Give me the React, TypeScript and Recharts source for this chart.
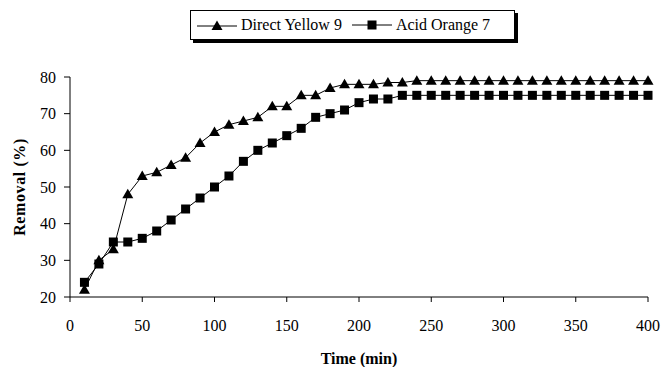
import React from "react";
import { LineChart, Line, XAxis, YAxis } from "recharts";

// sampling times (min) and dye removal (%) for each dye
const times = [
  10, 20, 30, 40, 50, 60, 70, 80, 90, 100, 110, 120, 130, 140, 150, 160, 170,
  180, 190, 200, 210, 220, 230, 240, 250, 260, 270, 280, 290, 300, 310, 320,
  330, 340, 350, 360, 370, 380, 390, 400,
];
const directYellow9 = [
  22, 30, 33, 48, 53, 54, 56, 58, 62, 65, 67, 68, 69, 72, 72, 75, 75, 77, 78,
  78, 78, 78.5, 78.5, 79, 79, 79, 79, 79, 79, 79, 79, 79, 79, 79, 79, 79, 79,
  79, 79, 79,
];
const acidOrange7 = [
  24, 29, 35, 35, 36, 38, 41, 44, 47, 50, 53, 57, 60, 62, 64, 66, 69, 70, 71,
  73, 74, 74, 75, 75, 75, 75, 75, 75, 75, 75, 75, 75, 75, 75, 75, 75, 75, 75,
  75, 75,
];
const xTicks = [0, 50, 100, 150, 200, 250, 300, 350, 400];
const yTicks = [20, 30, 40, 50, 60, 70, 80];

const data = times.map((t, i) => ({
  time: t,
  dy9: directYellow9[i],
  ao7: acidOrange7[i],
}));

const FONT = "Liberation Serif, DejaVu Serif, serif";

const Triangle = (props: any) => {
  const { cx, cy, index } = props;
  if (cx == null || cy == null) return null;
  return (
    <path
      key={`tri-${index}`}
      d={`M${cx},${cy - 5.5} L${cx + 5.5},${cy + 4} L${cx - 5.5},${cy + 4} Z`}
      fill="#000"
    />
  );
};

const Square = (props: any) => {
  const { cx, cy, index } = props;
  if (cx == null || cy == null) return null;
  return (
    <rect key={`sq-${index}`} x={cx - 4.5} y={cy - 4.5} width={9} height={9} fill="#000" />
  );
};

function LegendBox() {
  return (
    <div
      style={{
        position: "absolute",
        left: 190,
        top: 10,
        width: 323,
        height: 28,
        border: "1px solid #000",
        background: "#fff",
        boxShadow: "3px 3px 0 #000",
        display: "flex",
        alignItems: "center",
        fontFamily: FONT,
        fontSize: 16,
        color: "#000",
      }}
    >
      <svg width={44} height={14} style={{ marginLeft: 4 }}>
        <line x1={2} y1={8} x2={42} y2={8} stroke="#000" strokeWidth={1} />
        <path d="M22,2.5 L27.5,12 L16.5,12 Z" fill="#000" />
      </svg>
      <span style={{ marginLeft: 2 }}>Direct Yellow 9</span>
      <svg width={44} height={14} style={{ marginLeft: 8 }}>
        <line x1={2} y1={7} x2={42} y2={7} stroke="#000" strokeWidth={1} />
        <rect x={17.5} y={2.5} width={9} height={9} fill="#000" />
      </svg>
      <span style={{ marginLeft: 2 }}>Acid Orange 7</span>
    </div>
  );
}

export default function App() {
  return (
    <div
      style={{
        position: "absolute",
        left: 0,
        top: 0,
        width: 661,
        height: 367,
        overflow: "hidden",
        background: "#fff",
      }}
    >
      <LineChart
        width={661}
        height={367}
        data={data}
        margin={{ top: 77, right: 13, bottom: 0, left: 0 }}
        style={{ fontFamily: FONT, overflow: "visible" }}
      >
        <XAxis
          dataKey="time"
          type="number"
          domain={[0, 400]}
          ticks={xTicks}
          interval={0}
          stroke="#000"
          tickSize={5}
          tickMargin={18}
          height={70}
          tick={{ fill: "#000", fontFamily: FONT, fontSize: 16 }}
          label={{
            value: "Time (min)",
            position: "insideBottom",
            offset: 3,
            fill: "#000",
            fontFamily: FONT,
            fontSize: 16,
            fontWeight: "bold",
          }}
        />
        <YAxis
          type="number"
          domain={[20, 80]}
          ticks={yTicks}
          stroke="#000"
          tickSize={6}
          tickMargin={8}
          width={70}
          tick={{ fill: "#000", fontFamily: FONT, fontSize: 16 }}
          label={{
            value: "Removal (%)",
            angle: -90,
            position: "insideLeft",
            offset: 19,
            fill: "#000",
            fontFamily: FONT,
            fontSize: 16,
            fontWeight: "bold",
            style: { textAnchor: "middle", letterSpacing: 0.6 },
          }}
        />
        <Line
          dataKey="dy9"
          stroke="#000"
          strokeWidth={1}
          dot={Triangle}
          activeDot={false}
          isAnimationActive={false}
        />
        <Line
          dataKey="ao7"
          stroke="#000"
          strokeWidth={1}
          dot={Square}
          activeDot={false}
          isAnimationActive={false}
        />
      </LineChart>
      <LegendBox />
    </div>
  );
}
